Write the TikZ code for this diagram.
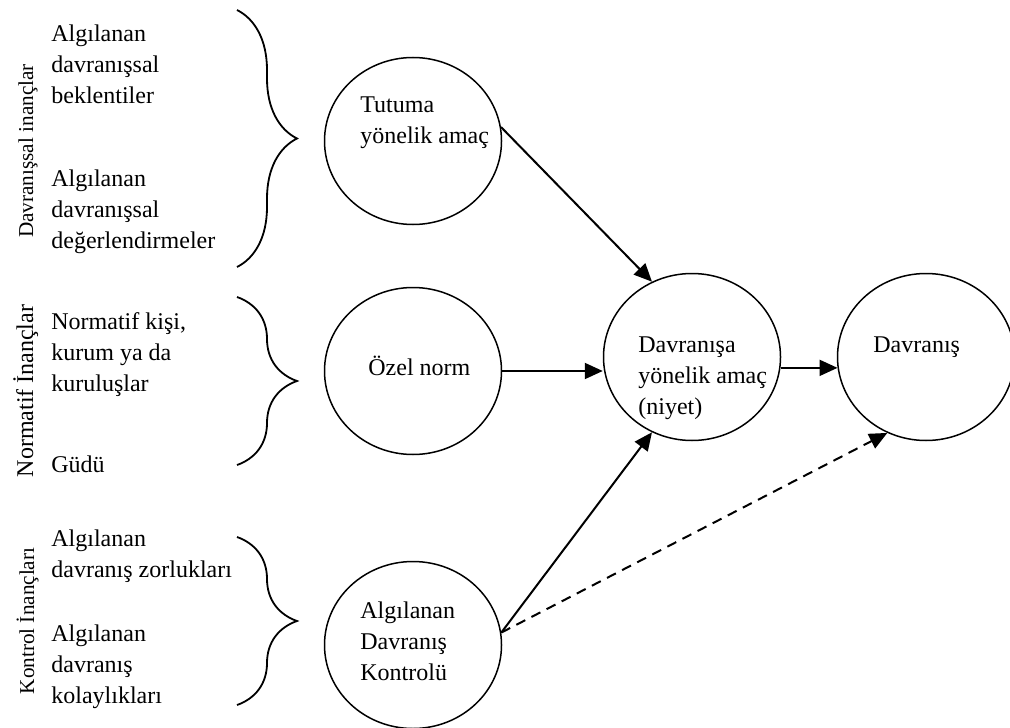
\documentclass[tikz,border=0pt]{standalone}
\usepackage{fontspec}
\setmainfont{Liberation Serif}
\usetikzlibrary{shapes.geometric,arrows.meta,decorations.pathreplacing}

\tikzstyle{kavram} = [ellipse,draw,line width=0.75pt,minimum width=88.5pt,minimum height=83.5pt,inner sep=0pt]
\tikzstyle{metin} = [align=left,inner sep=0pt,anchor=north west,font=\fontsize{12pt}{15.6pt}\selectfont]
\tikzstyle{satir} = [inner sep=0pt,anchor=base west,font=\fontsize{12pt}{15.6pt}\selectfont]
\tikzstyle{baslik} = [rotate=90,anchor=base,inner sep=0pt,font=\fontsize{10.6pt}{13pt}\selectfont]
\tikzstyle{ok} = [-{Triangle[length=9pt,width=8pt]},line width=1pt]
\tikzstyle{parantez} = [decorate,decoration={brace,amplitude=30pt},line width=0.9pt]

\begin{document}
\begin{tikzpicture}[x=0.5pt,y=-0.5pt]
	\useasboundingbox (0,0) rectangle (1010,727);
	
	% inanclar
	\node[baslik] (g1) at (33,151) {Davranışsal inançlar};
	\node[baslik,font=\fontsize{12pt}{14pt}\selectfont] (g2) at (33,391) {Normatif İnançlar};
	\node[baslik] (g3) at (34,621) {Kontrol İnançları};
	
	\node[metin] (m1) at (51,24) {Algılanan\\davranışsal\\beklentiler};
	\node[metin] (m2) at (51,169) {Algılanan\\davranışsal\\değerlendirmeler};
	\node[metin] (m3) at (51,312) {Normatif kişi,\\kurum ya da\\kuruluşlar};
	\node[satir] (m4) at (51,472) {Güdü};
	\node[metin] (m5) at (51,529) {Algılanan\\davranış zorlukları};
	\node[metin] (m6) at (51,624) {Algılanan\\davranış\\kolaylıkları};
	
	\coordinate (p1a) at (237,10);
	\coordinate (p1b) at (237,267);
	\coordinate (p2a) at (237,297);
	\coordinate (p2b) at (237,465);
	\coordinate (p3a) at (237,537);
	\coordinate (p3b) at (237,705);
	\draw[parantez] (p1a) -- (p1b);
	\draw[parantez] (p2a) -- (p2b);
	\draw[parantez] (p3a) -- (p3b);
	
	% daireler
	\node[kavram] (tutum) at (413,141) {};
	\node[kavram] (ozel) at (413,371) {};
	\node[kavram] (kontrol) at (413,645) {};
	\node[kavram] (niyet) at (692,357) {};
	\node[kavram] (davr) at (926,357) {};
	
	\node[metin] (t1) at (360,96) {Tutuma\\yönelik amaç};
	\node[satir] (t2) at (368,375) {Özel norm};
	\node[metin] (t3) at (360,601) {Algılanan\\Davranış\\Kontrolü};
	\node[metin] (t4) at (638,336) {Davranışa\\yönelik amaç\\(niyet)};
	\node[satir] (t5) at (873,352) {Davranış};
	
	\draw[ok] (tutum.9) -- (niyet.118);
	\draw[ok] (ozel.east) -- (niyet.west |- ozel.east);
	\draw[ok] (niyet.-7) -- (davr.187);
	\draw[ok] (kontrol.8) -- (niyet.242);
	\draw[ok,dashed,dash pattern=on 5pt off 3.5pt] (kontrol.8) -- (davr.243);
\end{tikzpicture}
\end{document}
